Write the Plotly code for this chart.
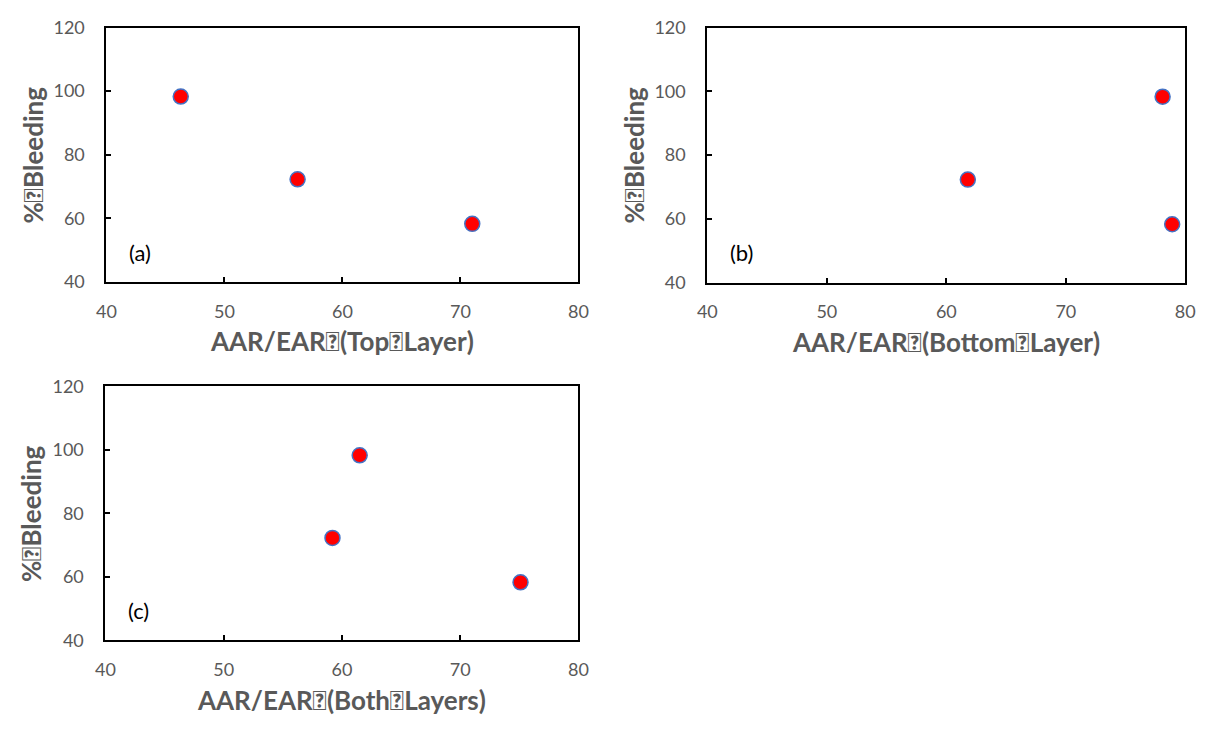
import plotly.graph_objects as go

# Measured bleeding (%) for the three mixes
bleeding = [98.3, 72.3, 58.3]

# AAR/EAR ratios per layer case
aar_top = [46.3, 56.2, 71.0]
aar_bottom = [78.1, 61.8, 78.9]
aar_both = [61.5, 59.2, 75.1]

x_titles = ["AAR/EAR\uf020(Top\uf020Layer)",
            "AAR/EAR\uf020(Bottom\uf020Layer)",
            "AAR/EAR\uf020(Both\uf020Layers)"]
y_title = "%\uf020Bleeding"
panel_tags = ["(a)", "(b)", "(c)"]

x_range = [40, 80]
y_range = [40, 120]
x_ticks = [40, 50, 60, 70, 80]
y_ticks = [40, 60, 80, 100, 120]

W, H = 1214, 730


def px(x):
    return x / W


def py(y):
    return 1 - y / H


# Plot-area boxes in pixels: (left, right, top, bottom)
boxes = [(98, 578, 16, 278.5), (709, 1195, 16, 279), (97, 578, 386, 648)]
series = [aar_top, aar_bottom, aar_both]

fig = go.Figure()
FONT = "Lato, 'Open Sans', sans-serif"
GRAY = "#595959"

for i, (box, xs) in enumerate(zip(boxes, series)):
    n = "" if i == 0 else str(i + 1)
    l, r, t, b = box
    fig.add_trace(go.Scatter(
        x=xs, y=bleeding, mode="markers",
        xaxis="x" + n, yaxis="y" + n,
        marker=dict(size=15, color="#ff0000",
                    line=dict(color="#4472c4", width=1.5)),
        showlegend=False, hoverinfo="x+y",
    ))
    axis_common = dict(
        showline=True, linecolor="black", linewidth=2, mirror=True,
        ticks="inside", ticklen=5, tickwidth=1.5, tickcolor="black",
        showgrid=False, zeroline=False,
        tickfont=dict(family=FONT, size=18, color=GRAY),
    )
    fig.update_layout(**{
        "xaxis" + n: dict(axis_common, domain=[px(l), px(r)], range=x_range,
                          tickvals=x_ticks, anchor="y" + n,
                          ticklabelstandoff=12),
        "yaxis" + n: dict(axis_common, domain=[py(b), py(t)], range=y_range,
                          tickvals=y_ticks, anchor="x" + n,
                          ticklabelstandoff=16),
    })
    # axis titles
    fig.add_annotation(text="<b>%s</b>" % x_titles[i], xref="paper", yref="paper",
                       x=px((l + r) / 2), y=py(b + 61), showarrow=False,
                       xanchor="center", yanchor="middle",
                       font=dict(family=FONT, size=26, color=GRAY))
    fig.add_annotation(text="<b>%s</b>" % y_title, xref="paper", yref="paper",
                       x=px(l - 75), y=py((t + b) / 2), showarrow=False,
                       textangle=-90, xanchor="center", yanchor="middle",
                       font=dict(family=FONT, size=26, color=GRAY))
    # panel tag
    fig.add_annotation(text=panel_tags[i], xref="paper", yref="paper",
                       x=px(l + 21), y=py(b - 31), showarrow=False,
                       xanchor="left", yanchor="middle",
                       font=dict(family=FONT, size=22, color="black"))

fig.update_layout(
    width=W, height=H,
    margin=dict(l=0, r=0, t=0, b=0),
    paper_bgcolor="white", plot_bgcolor="white",
)

fig.write_html("out.html")
